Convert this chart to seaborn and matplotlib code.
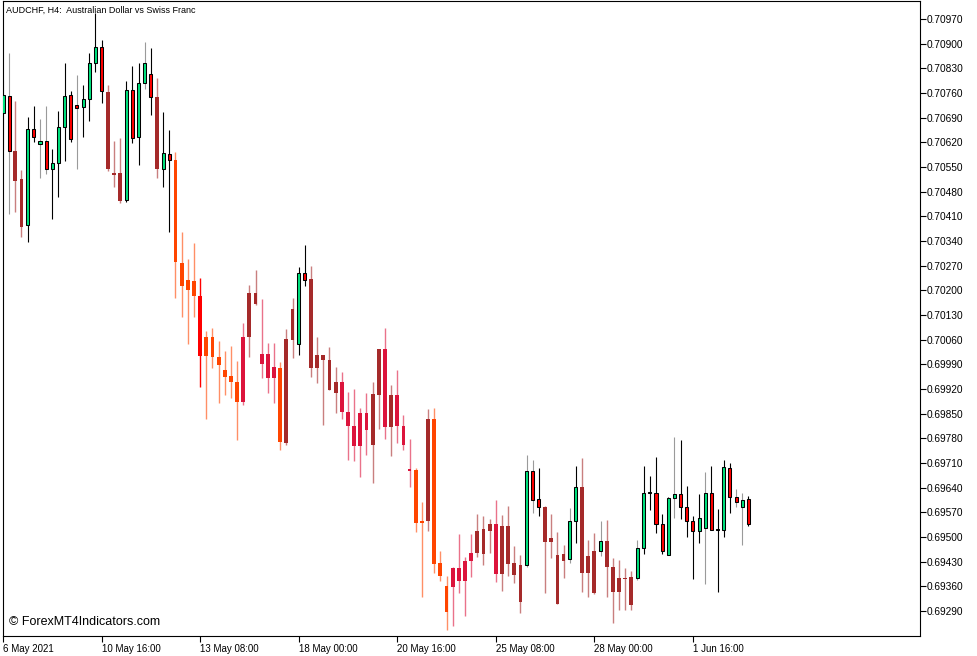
import numpy as np
import pandas as pd
import matplotlib
matplotlib.use("Agg")
import matplotlib.pyplot as plt
import seaborn as sns

# ------------------------------------------------------------------
# AUDCHF H4 candles (122 bars)
# ------------------------------------------------------------------
opens = [
    0.70703, 0.70751, 0.70595, 0.70516, 0.70385, 0.70658, 0.70615, 0.70624, 0.70544, 0.70561,
    0.70663, 0.70754, 0.70726, 0.70720, 0.70743, 0.70845, 0.70890, 0.70763, 0.70533, 0.70533,
    0.70456, 0.70769, 0.70635, 0.70788, 0.70814, 0.70749, 0.70544, 0.70587, 0.70570, 0.70278,
    0.70229, 0.70226, 0.70184, 0.70067, 0.70067, 0.70011, 0.69974, 0.69957, 0.69940, 0.69883,
    0.70067, 0.70192, 0.70019, 0.70019, 0.69951, 0.69980, 0.69767, 0.70059, 0.70048, 0.70249,
    0.70232, 0.69980, 0.70016, 0.70002, 0.69909, 0.69940, 0.69855, 0.69815, 0.69758, 0.69852,
    0.69761, 0.69903, 0.70033, 0.69812, 0.69903, 0.69815, 0.69693, 0.69690, 0.69545, 0.69545,
    0.69835, 0.69426, 0.69361, 0.69358, 0.69412, 0.69375, 0.69432, 0.69455, 0.69452, 0.69517,
    0.69537, 0.69395, 0.69531, 0.69426, 0.69420, 0.69420, 0.69687, 0.69608, 0.69585, 0.69486,
    0.69449, 0.69432, 0.69437, 0.69545, 0.69642, 0.69398, 0.69460, 0.69460, 0.69489, 0.69415,
    0.69344, 0.69384, 0.69386, 0.69384, 0.69469, 0.69625, 0.69625, 0.69537, 0.69449, 0.69611,
    0.69622, 0.69585, 0.69545, 0.69517, 0.69525, 0.69625, 0.69523, 0.69520, 0.69696, 0.69613,
    0.69585, 0.69608,
]
highs = [
    0.70797, 0.70874, 0.70737, 0.70541, 0.70692, 0.70723, 0.70686, 0.70723, 0.70601, 0.70709,
    0.70845, 0.70766, 0.70811, 0.70783, 0.70874, 0.70987, 0.70910, 0.70783, 0.70624, 0.70632,
    0.70794, 0.70837, 0.70845, 0.70905, 0.70888, 0.70803, 0.70706, 0.70655, 0.70592, 0.70365,
    0.70289, 0.70334, 0.70235, 0.70085, 0.70093, 0.70056, 0.70028, 0.70042, 0.69999, 0.70107,
    0.70215, 0.70258, 0.70175, 0.70050, 0.70050, 0.69997, 0.70090, 0.70178, 0.70266, 0.70329,
    0.70269, 0.70067, 0.70016, 0.70039, 0.69982, 0.69968, 0.69911, 0.69920, 0.69866, 0.69909,
    0.69940, 0.70033, 0.70093, 0.69931, 0.69974, 0.69846, 0.69778, 0.69696, 0.69599, 0.69863,
    0.69866, 0.69460, 0.69389, 0.69415, 0.69508, 0.69443, 0.69508, 0.69565, 0.69560, 0.69551,
    0.69605, 0.69562, 0.69588, 0.69474, 0.69449, 0.69733, 0.69718, 0.69696, 0.69588, 0.69565,
    0.69514, 0.69477, 0.69582, 0.69701, 0.69724, 0.69491, 0.69511, 0.69545, 0.69548, 0.69440,
    0.69435, 0.69412, 0.69403, 0.69491, 0.69701, 0.69673, 0.69727, 0.69565, 0.69613, 0.69784,
    0.69775, 0.69645, 0.69560, 0.69622, 0.69684, 0.69701, 0.69579, 0.69718, 0.69710, 0.69636,
    0.69625, 0.69616,
]
lows = [
    0.70598, 0.70417, 0.70422, 0.70351, 0.70337, 0.70621, 0.70519, 0.70530, 0.70402, 0.70465,
    0.70567, 0.70621, 0.70544, 0.70635, 0.70681, 0.70820, 0.70732, 0.70539, 0.70493, 0.70448,
    0.70451, 0.70618, 0.70556, 0.70771, 0.70698, 0.70519, 0.70493, 0.70365, 0.70178, 0.70124,
    0.70048, 0.70124, 0.69926, 0.69835, 0.69980, 0.69880, 0.69903, 0.69894, 0.69775, 0.69875,
    0.70011, 0.70158, 0.69951, 0.69909, 0.69880, 0.69747, 0.69761, 0.70008, 0.70016, 0.70212,
    0.69954, 0.69937, 0.69818, 0.69917, 0.69852, 0.69835, 0.69718, 0.69716, 0.69670, 0.69733,
    0.69653, 0.69806, 0.69778, 0.69730, 0.69767, 0.69747, 0.69642, 0.69514, 0.69330, 0.69517,
    0.69398, 0.69375, 0.69236, 0.69247, 0.69341, 0.69276, 0.69386, 0.69443, 0.69420, 0.69455,
    0.69372, 0.69347, 0.69389, 0.69369, 0.69284, 0.69415, 0.69568, 0.69560, 0.69341, 0.69440,
    0.69310, 0.69384, 0.69426, 0.69483, 0.69344, 0.69330, 0.69338, 0.69446, 0.69330, 0.69256,
    0.69293, 0.69293, 0.69293, 0.69378, 0.69452, 0.69577, 0.69511, 0.69452, 0.69449, 0.69554,
    0.69551, 0.69500, 0.69381, 0.69483, 0.69367, 0.69520, 0.69344, 0.69500, 0.69568, 0.69585,
    0.69477, 0.69531,
]
closes = [
    0.70754, 0.70595, 0.70510, 0.70380, 0.70658, 0.70635, 0.70624, 0.70544, 0.70561, 0.70663,
    0.70751, 0.70629, 0.70717, 0.70743, 0.70845, 0.70890, 0.70766, 0.70544, 0.70527, 0.70453,
    0.70769, 0.70632, 0.70788, 0.70845, 0.70749, 0.70544, 0.70590, 0.70570, 0.70280, 0.70212,
    0.70201, 0.70184, 0.70014, 0.70014, 0.70011, 0.69988, 0.69954, 0.69940, 0.69883, 0.70067,
    0.70192, 0.70161, 0.69991, 0.69951, 0.69982, 0.69770, 0.70062, 0.70147, 0.70249, 0.70229,
    0.69980, 0.70016, 0.70002, 0.69917, 0.69940, 0.69855, 0.69815, 0.69758, 0.69852, 0.69804,
    0.69906, 0.70033, 0.69812, 0.69903, 0.69815, 0.69761, 0.69687, 0.69540, 0.69540, 0.69835,
    0.69423, 0.69389, 0.69287, 0.69412, 0.69375, 0.69432, 0.69455, 0.69517, 0.69523, 0.69537,
    0.69395, 0.69531, 0.69423, 0.69392, 0.69315, 0.69687, 0.69605, 0.69585, 0.69486, 0.69497,
    0.69310, 0.69452, 0.69545, 0.69642, 0.69398, 0.69446, 0.69341, 0.69489, 0.69415, 0.69344,
    0.69384, 0.69381, 0.69307, 0.69469, 0.69625, 0.69624, 0.69537, 0.69460, 0.69611, 0.69622,
    0.69585, 0.69545, 0.69517, 0.69554, 0.69625, 0.69520, 0.69520, 0.69699, 0.69613, 0.69599,
    0.69605, 0.69537,
]
# candle paint per bar: g/G green (black/gray wick), r/R red (black/gray wick),
# b brown, o orange-red, c crimson, x plain red, d doji
candle_style = list(
    "GRbbgrGRgg" "grRgggrbbb" "grgGrbgroo" "ooxooooooc" "bbcccobbgr"
    "bbbbbccccc" "bbcbcccoob" "oooccccbbb" "cbbbbGRrbb" "bbGgbbbGbb"
    "bbbGgdrrgG" "rrrgGrdgrR" "Gr"
)

time_ticks = [0, 16, 32, 48, 64, 80, 96, 112]
time_labels = ["6 May 2021", "10 May 16:00", "13 May 08:00", "18 May 00:00",
               "20 May 16:00", "25 May 08:00", "28 May 00:00", "1 Jun 16:00"]
price_ticks = np.round(np.arange(0.69290, 0.709701, 0.0007), 5)

# face, edge, wick, wick alpha
style_map = {
    "g": ("#00E27E", "black", "black", 1.0),
    "G": ("#00E27E", "black", "#9a9a9a", 1.0),
    "r": ("#FF0000", "black", "black", 1.0),
    "R": ("#FF0000", "black", "#9a9a9a", 1.0),
    "b": ("#A52A2A", "none", "#A52A2A", 0.6),
    "o": ("#FF4500", "none", "#FF4500", 0.6),
    "c": ("#DC143C", "none", "#DC143C", 0.6),
    "x": ("#FF0000", "none", "#FF0000", 1.0),
    "d": ("black", "black", "black", 1.0),
}

df = pd.DataFrame({"open": opens, "high": highs, "low": lows,
                   "close": closes, "style": candle_style})
df["bar"] = np.arange(len(df))
df["body_lo"] = df[["open", "close"]].min(axis=1)
df["body_h"] = (df["close"] - df["open"]).abs().clip(lower=0.00004)

sns.set_style("white")
plt.rcParams["font.family"] = ["Liberation Sans", "DejaVu Sans"]

fig, ax = plt.subplots(figsize=(9.77, 6.56), dpi=100)
fig.subplots_adjust(left=3 / 977, right=920 / 977, bottom=20 / 656, top=655 / 656)

for code, grp in df.groupby("style"):
    face, edge, wick, walpha = style_map[code]
    outlined = edge != "none"
    ax.vlines(grp["bar"], grp["low"], grp["high"], color=wick, alpha=walpha,
              linewidth=0.8 if outlined else 1.0, zorder=2)
    ax.bar(grp["bar"], grp["body_h"], bottom=grp["body_lo"],
           width=0.5 if outlined else 0.62, color=face,
           edgecolor=edge, linewidth=0.75 if outlined else 0, zorder=3)

ax.set_xlim(0.24, 148.86)
ax.set_ylim(0.69219, 0.71021)

ax.yaxis.tick_right()
ax.set_yticks(price_ticks)
ax.set_yticklabels([f"{p:.5f}" for p in price_ticks])
ax.set_xticks(time_ticks)
ax.set_xticklabels(time_labels, ha="left")
ax.tick_params(axis="y", direction="out", length=4, width=0.8, pad=1,
               labelsize=7.3, colors="black", right=True, left=False)
ax.tick_params(axis="x", direction="out", length=4, width=0.8, pad=1.5,
               labelsize=7, colors="black", bottom=True)
for side in ax.spines.values():
    side.set_color("black")
    side.set_linewidth(0.8)
ax.grid(False)

ax.text(0.003, 0.993, "AUDCHF, H4:  Australian Dollar vs Swiss Franc",
        transform=ax.transAxes, fontsize=6.5, va="top", ha="left", color="black")
ax.text(0.006, 0.012, "\u00a9 ForexMT4Indicators.com",
        transform=ax.transAxes, fontsize=9, va="bottom", ha="left", color="black")

fig.savefig("out.png", dpi=100)
